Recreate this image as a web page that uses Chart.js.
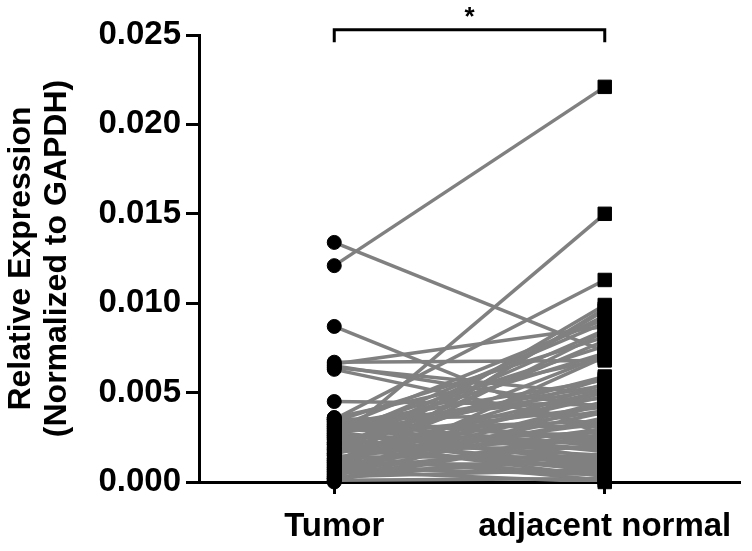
<!DOCTYPE html>
<html>
<head>
<meta charset="utf-8">
<script src="https://cdn.jsdelivr.net/npm/chart.js@4"></script>
<style>
  html, body { margin: 0; padding: 0; background: #fff; }
</style>
</head>
<body>
<canvas id="pairChart" width="752" height="551"></canvas>
<script>
const groups = ['Tumor', 'adjacent normal'];

// paired samples, tumor[i] belongs with normal[i]
const tumor = [
    0.0134, 0.0121, 0.0087, 0.0067, 0.0066, 0.0065, 0.0064, 0.0063, 0.0045, 0.0022,
    0.0035, 0.0010, 0.0005, 0.0018, 0.0030, 0.0025, 0.0008, 0.0034, 0.0015, 0.0028,
    0.0012, 0.0036, 0.0002, 0.0020, 0.0032, 0.0003, 0.0027, 0.0011, 0.0033, 0.0006,
    0.0024, 0.0016, 0.0035, 0.0004, 0.0029, 0.0013, 0.0031, 0.0009, 0.0021, 0.0001,
    0.0034, 0.0017, 0.0026, 0.0007, 0.0019, 0.0030, 0.0002, 0.0023, 0.0014, 0.0036,
    0.0005, 0.0028, 0.0010, 0.0032, 0.0018, 0.0003, 0.0025, 0.0012, 0.0008, 0.0022,
    0.0001, 0.0015, 0.0006, 0.0029, 0.0000, 0.0011, 0.0019, 0.0004, 0.0026, 0.0013,
    0.0033, 0.0009, 0.0021, 0.0002, 0.0027, 0.0016, 0.0031, 0.0007, 0.0024, 0.0035,
];
const normal = [
    0.0073, 0.0221, 0.0026, 0.0068, 0.0087, 0.0041, 0.0049, 0.0031, 0.0043, 0.0150,
    0.0113, 0.0099, 0.0096, 0.0093, 0.0091, 0.0089, 0.0084, 0.0081, 0.0079, 0.0076,
    0.0071, 0.0069, 0.0070, 0.0059, 0.0057, 0.0055, 0.0052, 0.0050, 0.0047, 0.0045,
    0.0042, 0.0040, 0.0038, 0.0036, 0.0034, 0.0033, 0.0031, 0.0030, 0.0028, 0.0027,
    0.0025, 0.0024, 0.0022, 0.0021, 0.0019, 0.0018, 0.0016, 0.0015, 0.0014, 0.0013,
    0.0012, 0.0011, 0.0010, 0.0009, 0.0008, 0.0007, 0.0006, 0.0005, 0.0004, 0.0003,
    0.0002, 0.0001, 0.0000, 0.0054, 0.0044, 0.0058, 0.0085, 0.0097, 0.0072, 0.0048,
    0.0020, 0.0035, 0.0006, 0.0029, 0.0012, 0.0051, 0.0017, 0.0039, 0.0009, 0.0023,
];
const yTicks = [0, 0.005, 0.010, 0.015, 0.020, 0.025];
const bracketY = [0.0246, 0.0253];
const signifMark = '*';

Chart.defaults.font.family = '"Liberation Sans", Arial, sans-serif';
Chart.defaults.color = '#000';

const pairLines = tumor.map((t, i) => ({
    data: [{x: 0, y: t}, {x: 1, y: normal[i]}],
    showLine: true,
    borderColor: '#808080',
    borderWidth: 3.5,
    pointRadius: 0,
    order: 2,
}));

const bracket = {
    data: [
        {x: 0, y: bracketY[0]},
        {x: 0, y: bracketY[1]},
        {x: 1, y: bracketY[1]},
        {x: 1, y: bracketY[0]},
    ],
    showLine: true,
    borderColor: '#000',
    borderWidth: 3,
    pointRadius: 0,
    clip: false,
    order: 1,
};

const tumorDots = {
    data: tumor.map(v => ({x: 0, y: v})),
    pointStyle: 'circle',
    pointRadius: 7,
    backgroundColor: '#000',
    borderColor: '#000',
    borderWidth: 1,
    clip: false,
    order: 0,
};

const normalSquares = {
    data: normal.map(v => ({x: 1, y: v})),
    pointStyle: 'rect',
    pointRadius: 9.5,
    backgroundColor: '#000',
    borderColor: '#000',
    borderWidth: 1,
    clip: false,
    order: 0,
};

// star above the bracket
const starPlugin = {
    id: 'star',
    afterDatasetsDraw(chart) {
        const {ctx, scales: {x, y}} = chart;
        ctx.save();
        ctx.font = 'bold 26px "Liberation Sans", Arial, sans-serif';
        ctx.fillStyle = '#000';
        ctx.textAlign = 'center';
        ctx.textBaseline = 'middle';
        ctx.fillText(signifMark, x.getPixelForValue(0.5), y.getPixelForValue(bracketY[1]) - 12);
        ctx.restore();
    }
};

const config = {
    type: 'scatter',
    data: {
        datasets: [tumorDots, normalSquares, bracket, ...pairLines],
    },
    options: {
        responsive: false,
        animation: false,
        layout: {
            padding: {top: 35, right: 12, bottom: 0, left: 0},
        },
        plugins: {
            legend: {display: false},
            tooltip: {enabled: false},
        },
        scales: {
            x: {
                type: 'linear',
                min: -0.5,
                max: 1.5,
                afterBuildTicks: (scale) => {
                    scale.ticks = [{value: 0}, {value: 1}];
                },
                afterFit: (scale) => {
                    scale.height = 69;
                },
                ticks: {
                    callback: (v) => groups[v],
                    autoSkip: false,
                    maxRotation: 0,
                    padding: 13,
                    font: {size: 33, weight: 'bold'},
                },
                grid: {
                    drawOnChartArea: false,
                    tickLength: 12,
                    tickColor: '#000',
                    tickWidth: 3,
                },
                border: {color: '#000', width: 3},
            },
            y: {
                min: 0,
                max: 0.025,
                afterBuildTicks: (scale) => {
                    scale.ticks = yTicks.map(v => ({value: v}));
                },
                afterFit: (scale) => {
                    scale.width = 199;
                },
                ticks: {
                    callback: (v) => v.toFixed(3),
                    padding: 5,
                    font: {size: 33, weight: 'bold'},
                },
                grid: {
                    drawOnChartArea: false,
                    tickLength: 13,
                    tickColor: '#000',
                    tickWidth: 3,
                },
                border: {color: '#000', width: 3},
                title: {
                    display: true,
                    text: ['Relative Expression', '(Normalized to GAPDH)'],
                    font: {size: 32, weight: 'bold', lineHeight: 1.1},
                    padding: {top: 4, bottom: 0},
                },
            },
        },
    },
    plugins: [starPlugin],
};

const pairChart = new Chart(
    document.getElementById('pairChart'),
    config
);
</script>
</body>
</html>
